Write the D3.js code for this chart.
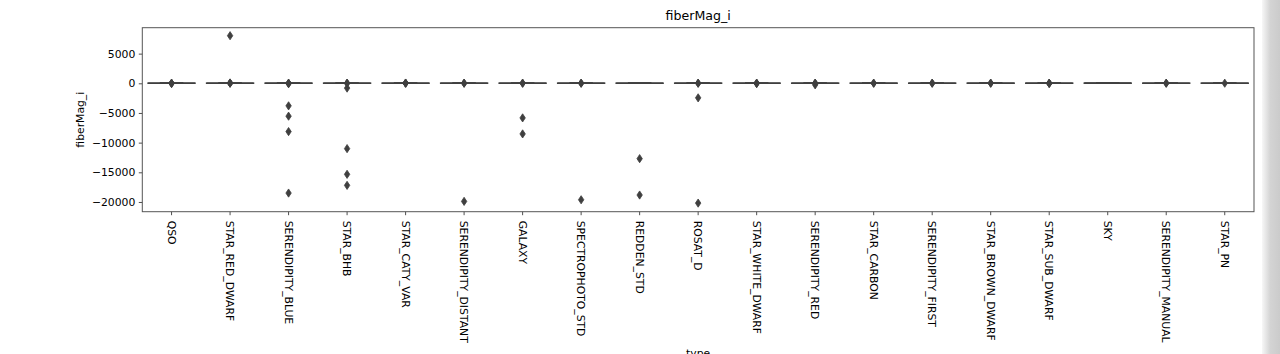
<!DOCTYPE html>
<html>
<head>
<meta charset="utf-8">
<script src="https://cdn.jsdelivr.net/npm/d3@7"></script>
<style>
  body { margin: 0; background: #fff; }
  svg { display: block; font-family: "DejaVu Sans", sans-serif; }
</style>
</head>
<body>
<div id="chart"></div>
<script>
///////////////////////////////////////////////////////////////////////////
///////////////////////////////// Data ////////////////////////////////////
///////////////////////////////////////////////////////////////////////////
var categories = ["QSO", "STAR_RED_DWARF", "SERENDIPITY_BLUE", "STAR_BHB", "STAR_CATY_VAR",
  "SERENDIPITY_DISTANT", "GALAXY", "SPECTROPHOTO_STD", "REDDEN_STD", "ROSAT_D",
  "STAR_WHITE_DWARF", "SERENDIPITY_RED", "STAR_CARBON", "SERENDIPITY_FIRST",
  "STAR_BROWN_DWARF", "STAR_SUB_DWARF", "SKY", "SERENDIPITY_MANUAL", "STAR_PN"]

// box stats (fiberMag_i is ~18-20 mag, so every box collapses onto 0)
var q1 =        [18.6, 18.2, 17.8, 17.6, 17.5, 18.9, 17.4, 16.8, 16.9, 18.3, 18.0, 17.9, 18.1, 18.4, 19.6, 18.2, 21.5, 18.8, 17.9]
var median =    [19.4, 19.3, 18.6, 18.5, 18.3, 19.6, 18.0, 17.6, 17.3, 19.1, 18.9, 18.9, 18.8, 19.1, 20.3, 19.0, 22.3, 19.5, 18.6]
var q3 =        [20.1, 20.2, 19.4, 19.4, 19.1, 20.2, 18.7, 18.4, 17.8, 19.8, 19.7, 19.8, 19.6, 19.8, 21.0, 19.8, 23.0, 20.1, 19.3]
var whiskerLo = [16.5, 15.6, 15.5, 15.0, 15.2, 17.0, 15.4, 15.6, 15.9, 16.2, 15.6, 15.2, 15.9, 16.4, 17.7, 15.9, 19.4, 16.9, 16.9]
var whiskerHi = [22.2, 23.1, 21.8, 22.2, 21.4, 22.2, 20.5, 19.9, 18.9, 22.0, 22.1, 22.4, 21.7, 21.8, 23.0, 22.2, 24.5, 21.9, 19.7]

var fliers = [
  [14.2, 25.1, -40],
  [8020, 13.5, 24.0, 60],
  [-3800, -5540, -8140, -18500, 14.0, 23.8, -60],
  [-810, -11010, -15340, -17200, 12.9, 23.1],
  [13.8, 22.4, 40],
  [-19900, 14.1, 23.5],
  [-5830, -8530, 13.0, 24.2],
  [-19630, 15.5, 21.0],
  [-12700, -18830],
  [-2450, -20190, 13.7, 22.9],
  [14.5, 23.0, -50],
  [-260, 14.0, 23.5],
  [13.2, 22.5],
  [14.9, 22.8],
  [15.8, 24.0],
  [14.0, 23.0, -40],
  [],
  [15.0, 22.5],
  [16.5]
]

var yTicks = [5000, 0, -5000, -10000, -15000, -20000]
var yDomain = [-21640, 9370]

///////////////////////////////////////////////////////////////////////////
///////////////////////////////// Globals /////////////////////////////////
///////////////////////////////////////////////////////////////////////////
var totalWidth = 1280
var totalHeight = 354
var margin = { top: 27.7, right: 26, bottom: 142.3, left: 142.3 }
var width = 1254 - margin.left
var height = 211.7 - margin.top
var ink = "#3f3f3f"
var tickFont = "10.8px"

var svg = d3.select("#chart").append("svg")
  .attr("width", totalWidth)
  .attr("height", totalHeight)

// grey strip on the right edge (window scrollbar in the screenshot)
var grad = svg.append("defs").append("linearGradient")
  .attr("id", "strip")
grad.append("stop").attr("offset", "0%").attr("stop-color", "#f7f7f7")
grad.append("stop").attr("offset", "45%").attr("stop-color", "#d4d4d4")
grad.append("stop").attr("offset", "100%").attr("stop-color", "#cbcbcb")
svg.append("rect")
  .attr("x", 1262).attr("y", 0)
  .attr("width", 18).attr("height", totalHeight)
  .attr("fill", "url(#strip)")

var g = svg.append("g")
  .attr("transform", "translate(" + margin.left + "," + margin.top + ")")

///////////////////////////////////////////////////////////////////////////
///////////////////////////// Create scales ///////////////////////////////
///////////////////////////////////////////////////////////////////////////
var xScale = d3.scaleBand()
  .domain(categories)
  .range([0, width])

var yScale = d3.scaleLinear()
  .domain(yDomain)
  .range([height, 0])

var colorScale = d3.scaleOrdinal()
  .domain(categories)
  .range(d3.quantize(t => d3.hsl(t * 360, 0.65, 0.6) + "", categories.length))

///////////////////////////////////////////////////////////////////////////
/////////////////////////////// Axes //////////////////////////////////////
///////////////////////////////////////////////////////////////////////////
var yAxis = g.append("g")
  .call(d3.axisLeft(yScale).tickValues(yTicks).tickFormat(d3.format("d")).tickSize(3.5).tickPadding(3.5))
yAxis.select(".domain").remove()
yAxis.selectAll("line").attr("stroke", "#222").attr("stroke-width", 0.8)
yAxis.selectAll("text").attr("font-size", tickFont).attr("fill", "#000").attr("font-family", "DejaVu Sans")

var xAxis = g.append("g")
  .attr("transform", "translate(0," + height + ")")
  .call(d3.axisBottom(xScale).tickSize(3.5).tickPadding(0))
xAxis.select(".domain").remove()
xAxis.selectAll("line").attr("stroke", "#222").attr("stroke-width", 0.8)
xAxis.selectAll("text")
  .attr("font-size", tickFont)
  .attr("fill", "#000")
  .attr("font-family", "DejaVu Sans")
  .attr("text-anchor", "start")
  .attr("y", 0)
  .attr("dy", "0.35em")
  .attr("transform", "translate(0,9) rotate(90)")

// frame
g.append("rect")
  .attr("width", width)
  .attr("height", height)
  .attr("fill", "none")
  .attr("stroke", "#555")
  .attr("stroke-width", 1)

///////////////////////////////////////////////////////////////////////////
/////////////////////////////// Boxes /////////////////////////////////////
///////////////////////////////////////////////////////////////////////////
var boxW = xScale.bandwidth() * 0.8

var boxes = g.selectAll(".box").data(categories)
  .enter().append("g")
  .attr("class", "box")
  .attr("transform", d => "translate(" + (xScale(d) + xScale.bandwidth() / 2) + ",0)")

boxes.append("line")
  .attr("y1", (d, i) => yScale(whiskerLo[i]))
  .attr("y2", (d, i) => yScale(q1[i]))
  .attr("stroke", ink).attr("stroke-width", 1.6)
boxes.append("line")
  .attr("y1", (d, i) => yScale(q3[i]))
  .attr("y2", (d, i) => yScale(whiskerHi[i]))
  .attr("stroke", ink).attr("stroke-width", 1.6)
boxes.append("line")
  .attr("x1", -boxW / 4).attr("x2", boxW / 4)
  .attr("y1", (d, i) => yScale(whiskerLo[i]))
  .attr("y2", (d, i) => yScale(whiskerLo[i]))
  .attr("stroke", ink).attr("stroke-width", 1.6)
boxes.append("line")
  .attr("x1", -boxW / 4).attr("x2", boxW / 4)
  .attr("y1", (d, i) => yScale(whiskerHi[i]))
  .attr("y2", (d, i) => yScale(whiskerHi[i]))
  .attr("stroke", ink).attr("stroke-width", 1.6)
boxes.append("rect")
  .attr("x", -boxW / 2)
  .attr("width", boxW)
  .attr("y", (d, i) => yScale(q3[i]))
  .attr("height", (d, i) => yScale(q1[i]) - yScale(q3[i]))
  .attr("fill", d => colorScale(d))
  .attr("stroke", ink).attr("stroke-width", 1.6)
boxes.append("line")
  .attr("x1", -boxW / 2).attr("x2", boxW / 2)
  .attr("y1", (d, i) => yScale(median[i]))
  .attr("y2", (d, i) => yScale(median[i]))
  .attr("stroke", ink).attr("stroke-width", 1.6)

// outliers as thin diamonds
var diamond = "M0,-4.1L2.7,0L0,4.1L-2.7,0Z"
boxes.selectAll(".flier")
  .data((d, i) => fliers[i])
  .enter().append("path")
  .attr("class", "flier")
  .attr("d", diamond)
  .attr("transform", v => "translate(0," + yScale(v) + ")")
  .attr("fill", ink)
  .attr("stroke", ink)
  .attr("stroke-width", 0.8)

///////////////////////////////////////////////////////////////////////////
/////////////////////////////// Labels ////////////////////////////////////
///////////////////////////////////////////////////////////////////////////
svg.append("text")
  .attr("x", margin.left + width / 2)
  .attr("y", 20)
  .attr("text-anchor", "middle")
  .attr("font-size", "12.6px")
  .text("fiberMag_i")

svg.append("text")
  .attr("transform", "translate(84," + (margin.top + height / 2) + ") rotate(-90)")
  .attr("text-anchor", "middle")
  .attr("font-size", tickFont)
  .text("fiberMag_i")

svg.append("text")
  .attr("x", margin.left + width / 2)
  .attr("y", 357)
  .attr("text-anchor", "middle")
  .attr("font-size", tickFont)
  .text("type")
</script>
</body>
</html>
